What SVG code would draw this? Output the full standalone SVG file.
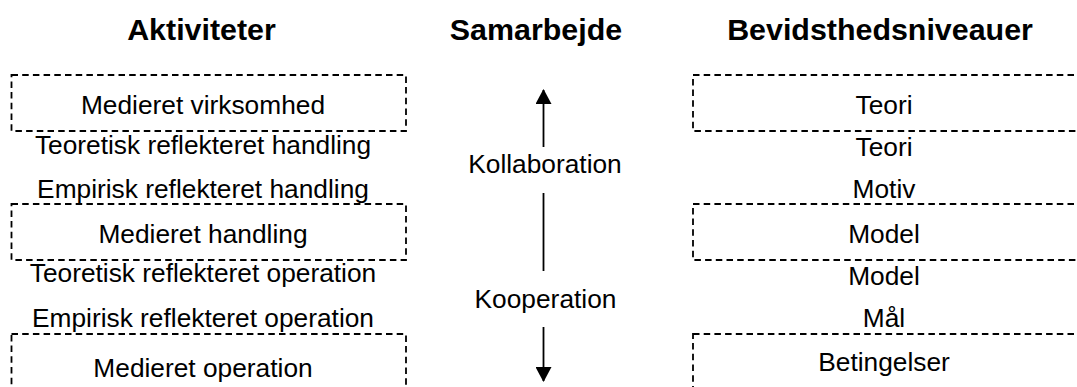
<svg xmlns="http://www.w3.org/2000/svg" width="1077" height="387" viewBox="0 0 1077 387">
<style>
.t{font-family:"Liberation Sans",Arial,sans-serif;font-size:26.3px;fill:#000;text-anchor:middle}
.h{font-family:"Liberation Sans",Arial,sans-serif;font-size:30.4px;font-weight:bold;fill:#000;text-anchor:middle}
.box{fill:none;stroke:#000;stroke-width:1.8;stroke-dasharray:6.5 4.2}
.ln{stroke:#000;stroke-width:1.8;fill:none}
</style>
<defs>
<marker id="ah" markerWidth="16" markerHeight="16" refX="14" refY="8" orient="auto" markerUnits="userSpaceOnUse">
<path d="M0,0 L15,8 L0,16 Z" fill="#000"/>
</marker>
</defs>
<rect width="1077" height="387" fill="#fff"/>
<g id="titles">
<text class="h" x="201.5" y="40">Aktiviteter</text>
<text class="h" x="536" y="40">Samarbejde</text>
<text class="h" x="880" y="40">Bevidsthedsniveauer</text>
</g>
<g id="act-virksomhed"><rect class="box" x="11.5" y="75" width="394.5" height="56"/><text class="t" x="203" y="114">Medieret virksomhed</text></g>
<g id="act-teo-handling"><text class="t" x="203" y="154">Teoretisk reflekteret handling</text></g>
<g id="act-emp-handling"><text class="t" x="203" y="198">Empirisk reflekteret handling</text></g>
<g id="act-handling"><rect class="box" x="11.5" y="204" width="394.5" height="56"/><text class="t" x="203" y="243">Medieret handling</text></g>
<g id="act-teo-operation"><text class="t" x="203" y="282">Teoretisk reflekteret operation</text></g>
<g id="act-emp-operation"><text class="t" x="203" y="327">Empirisk reflekteret operation</text></g>
<g id="act-operation"><rect class="box" x="11.5" y="334" width="394.5" height="80"/><text class="t" x="203" y="377">Medieret operation</text></g>
<g id="bev-teori1"><rect class="box" x="693" y="75" width="420" height="56"/><text class="t" x="884" y="114">Teori</text></g>
<g id="bev-teori2"><text class="t" x="884" y="156">Teori</text></g>
<g id="bev-motiv"><text class="t" x="884" y="198">Motiv</text></g>
<g id="bev-model1"><rect class="box" x="693" y="204" width="420" height="56"/><text class="t" x="884" y="243">Model</text></g>
<g id="bev-model2"><text class="t" x="884" y="285">Model</text></g>
<g id="bev-maal"><text class="t" x="884" y="327">Mål</text></g>
<g id="bev-betingelser"><rect class="box" x="693" y="334" width="420" height="80"/><text class="t" x="884" y="371">Betingelser</text></g>
<g id="sam-kollaboration"><text class="t" x="545" y="173">Kollaboration</text></g>
<g id="sam-kooperation"><text class="t" x="545.5" y="308">Kooperation</text></g>
<g id="connectors">
<line class="ln" x1="543.5" y1="147" x2="543.5" y2="90" marker-end="url(#ah)"/>
<line class="ln" x1="543.5" y1="193" x2="543.5" y2="271"/>
<line class="ln" x1="543.5" y1="327" x2="543.5" y2="381" marker-end="url(#ah)"/>
</g>
</svg>
